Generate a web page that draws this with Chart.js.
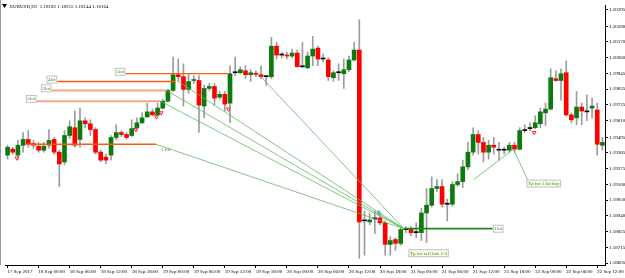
<!DOCTYPE html>
<html>
<head>
<meta charset="utf-8">
<script src="https://cdn.jsdelivr.net/npm/chart.js@4.4.0/dist/chart.umd.min.js"></script>
<style>
html, body { margin: 0; padding: 0; background: #fff; }
#wrap { width: 625px; height: 278px; }
</style>
</head>
<body>
<div id="wrap"><canvas id="canvas" width="625" height="278"></canvas></div>
<script>
var timeLabels = [ "17 Sep 2017", "18 Sep 00:00", "18 Sep 06:00", "18 Sep 12:00", "18 Sep 18:00",
		"19 Sep 00:00", "19 Sep 06:00", "19 Sep 12:00", "19 Sep 18:00", "20 Sep 00:00",
		"20 Sep 06:00", "20 Sep 12:00", "20 Sep 18:00", "21 Sep 00:00", "21 Sep 06:00",
		"21 Sep 12:00", "21 Sep 18:00", "22 Sep 00:00", "22 Sep 06:00", "22 Sep 12:00" ];

var priceTicks = [ 1.20395, 1.20280, 1.20170, 1.20060, 1.19945, 1.19835, 1.19725, 1.19610,
		1.19495, 1.19385, 1.19275, 1.19160, 1.19050, 1.18940, 1.18825, 1.18715, 1.18605 ];

// H1 candles
var openP = [ 1.19368, 1.19410, 1.19368, 1.19438, 1.19479, 1.19451, 1.19431, 1.19403, 1.19438, 1.19479,
		1.19389, 1.19320, 1.19507, 1.19562, 1.19479, 1.19611, 1.19590, 1.19549, 1.19389, 1.19354,
		1.19368, 1.19493, 1.19528, 1.19514, 1.19507, 1.19562, 1.19597, 1.19639, 1.19674, 1.19653,
		1.19701, 1.19750, 1.19826, 1.19937, 1.19923, 1.19833, 1.19896, 1.19896, 1.19715, 1.19840,
		1.19854, 1.19778, 1.19798, 1.19736, 1.19951, 1.19951, 1.19965, 1.19937, 1.19944, 1.19937,
		1.19923, 1.19923, 1.20139, 1.20076, 1.20076, 1.20069, 1.20090, 1.19993, 1.19986, 1.20069,
		1.20125, 1.20048, 1.20041, 1.19916, 1.19951, 1.19944, 1.19972, 1.20041, 1.20111, 1.18903,
		1.18896, 1.18917, 1.18924, 1.18889, 1.18737, 1.18771, 1.18744, 1.18841, 1.18848, 1.18820,
		1.18820, 1.18959, 1.19014, 1.19132, 1.19146, 1.19021, 1.19021, 1.19160, 1.19181, 1.19285,
		1.19389, 1.19514, 1.19458, 1.19389, 1.19438, 1.19403, 1.19403, 1.19403, 1.19438, 1.19410,
		1.19542, 1.19556, 1.19562, 1.19590, 1.19667, 1.19694, 1.19909, 1.19896, 1.19951, 1.19653,
		1.19632, 1.19708, 1.19674, 1.19701, 1.19687, 1.19438 ];
var highP = [ 1.19438, 1.19424, 1.19472, 1.19528, 1.19542, 1.19472, 1.19458, 1.19458, 1.19549, 1.19493,
		1.19403, 1.19542, 1.19611, 1.19680, 1.19701, 1.19632, 1.19618, 1.19562, 1.19403, 1.19375,
		1.19507, 1.19583, 1.19542, 1.19528, 1.19618, 1.19632, 1.19667, 1.19736, 1.19694, 1.19736,
		1.19764, 1.19833, 1.20062, 1.20048, 1.20014, 1.19944, 1.19930, 1.19930, 1.19861, 1.19875,
		1.19875, 1.19819, 1.19819, 1.20000, 1.20062, 1.19993, 1.20000, 1.19972, 1.19965, 1.20000,
		1.19930, 1.20201, 1.20166, 1.20097, 1.20097, 1.20118, 1.20111, 1.20166, 1.20097, 1.20208,
		1.20139, 1.20083, 1.20055, 1.19965, 1.20014, 1.20048, 1.20069, 1.20166, 1.20326, 1.18973,
		1.18959, 1.18973, 1.18945, 1.18903, 1.18792, 1.18785, 1.18855, 1.18862, 1.18862, 1.18889,
		1.18993, 1.19132, 1.19215, 1.19195, 1.19195, 1.19056, 1.19181, 1.19236, 1.19333, 1.19458,
		1.19562, 1.19542, 1.19493, 1.19472, 1.19493, 1.19458, 1.19424, 1.19458, 1.19458, 1.19562,
		1.19583, 1.19597, 1.19646, 1.19701, 1.19736, 1.19979, 1.19965, 1.19979, 1.20034, 1.19667,
		1.19819, 1.19736, 1.19792, 1.19771, 1.19736, 1.19493 ];
var lowP = [ 1.19340, 1.19375, 1.19340, 1.19389, 1.19424, 1.19417, 1.19389, 1.19389, 1.19417, 1.19375,
		1.19146, 1.19299, 1.19486, 1.19424, 1.19424, 1.19562, 1.19507, 1.19375, 1.19320, 1.19306,
		1.19333, 1.19479, 1.19500, 1.19479, 1.19500, 1.19542, 1.19590, 1.19632, 1.19646, 1.19646,
		1.19694, 1.19743, 1.19819, 1.19889, 1.19715, 1.19805, 1.19875, 1.19528, 1.19632, 1.19826,
		1.19722, 1.19764, 1.19680, 1.19597, 1.19930, 1.19944, 1.19909, 1.19889, 1.19923, 1.19909,
		1.19861, 1.19909, 1.20048, 1.20055, 1.20048, 1.20055, 1.19993, 1.19986, 1.19979, 1.20000,
		1.20000, 1.20027, 1.19896, 1.19889, 1.19896, 1.19840, 1.19958, 1.20034, 1.18639, 1.18660,
		1.18875, 1.18813, 1.18875, 1.18660, 1.18660, 1.18695, 1.18730, 1.18820, 1.18799, 1.18785,
		1.18764, 1.18750, 1.19000, 1.19111, 1.19000, 1.18903, 1.19007, 1.19146, 1.19139, 1.19264,
		1.19368, 1.19375, 1.19320, 1.19340, 1.19375, 1.19333, 1.19375, 1.19389, 1.19389, 1.19403,
		1.19528, 1.19542, 1.19556, 1.19562, 1.19576, 1.19687, 1.19889, 1.19757, 1.19646, 1.19597,
		1.19583, 1.19583, 1.19611, 1.19632, 1.19368, 1.19403 ];
var closeP = [ 1.19424, 1.19389, 1.19438, 1.19479, 1.19445, 1.19438, 1.19403, 1.19431, 1.19472, 1.19389,
		1.19306, 1.19507, 1.19569, 1.19438, 1.19611, 1.19590, 1.19549, 1.19389, 1.19333, 1.19333,
		1.19493, 1.19528, 1.19514, 1.19493, 1.19556, 1.19597, 1.19632, 1.19674, 1.19653, 1.19701,
		1.19750, 1.19826, 1.19937, 1.19923, 1.19833, 1.19889, 1.19903, 1.19722, 1.19840, 1.19854,
		1.19771, 1.19798, 1.19729, 1.19944, 1.19951, 1.19972, 1.19937, 1.19951, 1.19940, 1.19923,
		1.19923, 1.20139, 1.20076, 1.20076, 1.20069, 1.20090, 1.19993, 1.19993, 1.20069, 1.20118,
		1.20048, 1.20048, 1.19923, 1.19951, 1.19951, 1.19972, 1.20041, 1.20111, 1.18896, 1.18903,
		1.18910, 1.18917, 1.18889, 1.18737, 1.18764, 1.18744, 1.18841, 1.18841, 1.18820, 1.18820,
		1.18959, 1.19014, 1.19132, 1.19146, 1.19021, 1.19021, 1.19160, 1.19181, 1.19285, 1.19389,
		1.19514, 1.19458, 1.19389, 1.19438, 1.19424, 1.19403, 1.19403, 1.19438, 1.19410, 1.19542,
		1.19542, 1.19556, 1.19597, 1.19674, 1.19694, 1.19916, 1.19896, 1.19944, 1.19653, 1.19618,
		1.19708, 1.19680, 1.19674, 1.19715, 1.19445, 1.19458 ];

// sell order levels drawn on the chart (bar index from/to, price)
var levelNames = [ "5lot", "4lot", "3lot", "2lot", "1 lot" ];
var levelPrice = [ 1.19944, 1.19889, 1.19826, 1.19750, 1.19445 ];
var levelFrom = [ 22.8, 9.6, 8.5, 5.6, 3.7 ];
var levelTo = [ 42.7, 32.5, 30.7, 29.5, 28.7 ];

// take profit lines
var tpFromX = [ 48.8, 33.0, 30.7, 29.5, 28.7 ];
var tpFromY = [ 1.19930, 1.19889, 1.19826, 1.19750, 1.19445 ];
var tpTarget = [ 76.6, 1.18848 ];
var tpLineEnd = 93.8;
var buyPathX = [ 90.1, 97.8, 100.8 ];
var buyPathY = [ 1.19195, 1.19410, 1.19174 ];

var sellArrowX = [ 1.8, 24.8, 28.8, 29.7, 42.7, 101.8 ];
var sellArrowY = [ 1.19347, 1.19549, 1.19639, 1.19667, 1.19694, 1.19528 ];
var buyArrowX = [ 71.8 ];
var buyArrowY = [ 1.18959 ];

var titleText = "EURUSD,H1  1.18182 1.18255 1.18144 1.18164";

var FONT = "Liberation Serif";

var idx = openP.map(function(v, i) { return i; });
var bodyData = idx.map(function(i) { return { x : i, y : [ openP[i], closeP[i] ] }; });
var wickData = idx.map(function(i) { return { x : i, y : [ lowP[i], highP[i] ] }; });
var bodyColors = idx.map(function(i) {
	if (closeP[i] > openP[i]) return '#0d7a0d';
	if (closeP[i] < openP[i]) return '#ff0000';
	return '#000000';
});

var lineSets = [];
levelNames.forEach(function(n, k) {
	var light = (k == 2 || k == 3);
	lineSets.push({
		type : 'line',
		data : [ { x : levelFrom[k], y : levelPrice[k] }, { x : levelTo[k], y : levelPrice[k] } ],
		borderColor : light ? '#f6a58a' : '#ff5a14',
		borderWidth : light ? 2 : 1.3,
		pointRadius : 0
	});
});
tpFromX.forEach(function(x, k) {
	lineSets.push({
		type : 'line',
		data : [ { x : x, y : tpFromY[k] }, { x : tpTarget[0], y : tpTarget[1] } ],
		borderColor : '#62b862',
		borderWidth : 0.8,
		pointRadius : 0
	});
});
lineSets.push({
	type : 'line',
	data : [ { x : tpTarget[0], y : tpTarget[1] }, { x : tpLineEnd, y : tpTarget[1] } ],
	borderColor : '#1f861f',
	borderWidth : 1.6,
	pointRadius : 0
});
lineSets.push({
	type : 'line',
	data : buyPathX.map(function(x, k) { return { x : x, y : buyPathY[k] }; }),
	borderColor : '#62b862',
	borderWidth : 0.8,
	pointRadius : 0
});
lineSets.push({
	type : 'line',
	showLine : false,
	data : sellArrowX.map(function(x, k) { return { x : x, y : sellArrowY[k] }; }),
	pointStyle : 'triangle',
	rotation : 180,
	pointRadius : 2.2,
	pointBackgroundColor : '#ffffff',
	pointBorderColor : '#ff2020',
	pointBorderWidth : 1
});
lineSets.push({
	type : 'line',
	showLine : false,
	data : buyArrowX.map(function(x, k) { return { x : x, y : buyArrowY[k] }; }),
	pointStyle : 'triangle',
	pointRadius : 2.2,
	pointBackgroundColor : '#9fd0ff',
	pointBorderColor : '#3b8fe0',
	pointBorderWidth : 1
});

function box(ctx, text, px, py, alignRight, fill) {
	ctx.font = '5px "' + FONT + '"';
	var w = ctx.measureText(text).width + 3;
	var x0 = alignRight ? px - w : px;
	ctx.fillStyle = fill || '#ffffff';
	ctx.fillRect(x0, py - 3.5, w, 7);
	ctx.strokeStyle = '#a8a8a8';
	ctx.lineWidth = 0.7;
	ctx.strokeRect(x0 + 0.5, py - 3.5, w - 1, 7);
	ctx.fillStyle = '#2f8f2f';
	ctx.textBaseline = 'middle';
	ctx.textAlign = 'left';
	ctx.fillText(text, x0 + 1.5, py);
}

var notesPlugin = {
	id : 'notes',
	afterDatasetsDraw : function(chart) {
		var ctx = chart.ctx, xs = chart.scales.x, ys = chart.scales.y;
		ctx.save();
		for (var k = 0; k < 4; k++) {
			box(ctx, levelNames[k], xs.getPixelForValue(levelFrom[k]), ys.getPixelForValue(levelPrice[k]) - 2, true);
		}
		ctx.font = '5px "' + FONT + '"';
		ctx.fillStyle = '#2f8f2f';
		ctx.textBaseline = 'middle';
		ctx.fillText(levelNames[4], xs.getPixelForValue(levelTo[4]) + 5, ys.getPixelForValue(levelPrice[4]) + 5);
		box(ctx, "1lot", xs.getPixelForValue(tpLineEnd), ys.getPixelForValue(tpTarget[1]), false);
		box(ctx, "Tp for sell lots 1-5", xs.getPixelForValue(77.5), ys.getPixelForValue(1.18674), false, '#fbfbe8');
		box(ctx, "Tp for 1 lot buy", xs.getPixelForValue(100.3), ys.getPixelForValue(1.19167), false, '#fbfbe8');

		// title
		ctx.fillStyle = '#000';
		ctx.beginPath();
		ctx.moveTo(2, 4);
		ctx.lineTo(7, 4);
		ctx.lineTo(4.5, 8);
		ctx.closePath();
		ctx.fill();
		ctx.font = '5px "' + FONT + '"';
		ctx.fillText(titleText, 10, 6.5);

		// left frame
		ctx.strokeStyle = '#9a9a9a';
		ctx.lineWidth = 1;
		ctx.beginPath();
		ctx.moveTo(0.5, 0);
		ctx.lineTo(0.5, chart.chartArea.bottom);
		ctx.stroke();
		ctx.restore();
	}
};

window.onload = function() {
	var ctx = document.getElementById("canvas").getContext("2d");
	window.myChart = new Chart(ctx, {
		type : 'bar',
		data : {
			datasets : lineSets.concat([ {
				type : 'bar',
				data : bodyData,
				backgroundColor : bodyColors,
				barThickness : 4,
				minBarLength : 1,
				grouped : false,
				borderWidth : 0
			}, {
				type : 'bar',
				data : wickData,
				backgroundColor : '#9c9c9c',
				barThickness : 1,
				grouped : false,
				borderWidth : 0
			} ])
		},
		plugins : [ notesPlugin ],
		options : {
			responsive : false,
			animation : false,
			devicePixelRatio : 1,
			layout : { padding : 0 },
			plugins : {
				legend : { display : false },
				tooltip : { enabled : false }
			},
			scales : {
				x : {
					type : 'linear',
					min : -0.5,
					max : 115.5,
					offset : false,
					grid : { drawOnChartArea : false, tickLength : 3, tickColor : '#000', offset : false },
					border : { color : '#000', width : 1 },
					ticks : {
						align : 'start',
						padding : 1,
						color : '#000',
						maxRotation : 0,
						autoSkip : false,
						font : { family : FONT, size : 5 },
						callback : function(v) { return timeLabels[v / 6]; }
					},
					afterBuildTicks : function(scale) {
						scale.ticks = timeLabels.map(function(t, k) { return { value : k * 6 }; });
					},
					afterFit : function(scale) {
						scale.height = 13;
						scale.paddingLeft = 0;
						scale.paddingRight = 0;
					}
				},
				y : {
					type : 'linear',
					position : 'right',
					min : 1.18591,
					max : 1.20430,
					grid : { drawOnChartArea : false, tickLength : 3, tickColor : '#000' },
					border : { color : '#000', width : 1 },
					ticks : {
						padding : 1,
						color : '#000',
						font : { family : FONT, size : 5 },
						callback : function(v) { return v.toFixed(5); }
					},
					afterBuildTicks : function(scale) {
						scale.ticks = priceTicks.map(function(v) { return { value : v }; });
					},
					afterFit : function(scale) {
						scale.width = 20;
						scale.paddingTop = 0;
						scale.paddingBottom = 0;
					}
				}
			}
		}
	});
};
</script>
</body>
</html>
